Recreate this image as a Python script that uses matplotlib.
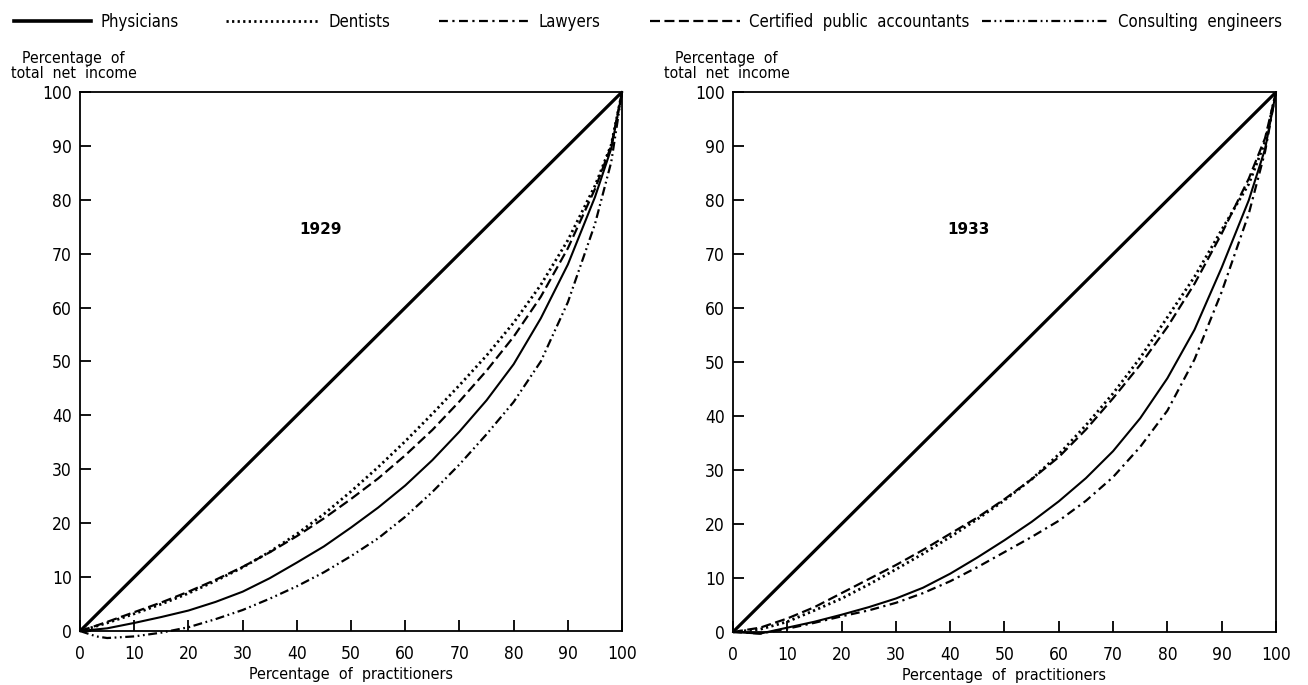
import matplotlib
matplotlib.use('Agg')
import matplotlib.pyplot as plt
from matplotlib.lines import Line2D

plt.rcParams['font.family'] = ['DejaVu Sans']
plt.rcParams['font.stretch'] = 'condensed'

#%% data
pct_1929 = [0, 3, 5, 10, 15, 20, 25, 30, 35, 40, 45, 50, 55, 60, 65, 70, 75, 80, 85, 90, 95, 98, 100]
dentists_1929 = [0, 0.9, 1.5, 3.2, 5.0, 7.0, 9.3, 11.8, 14.7, 18.0, 21.7, 25.9, 30.4, 35.2, 40.3, 45.6, 51.1, 57.2, 64.2, 72.5, 82.6, 90.2, 100]
cpa_1929 = [0, 1.0, 1.7, 3.5, 5.3, 7.3, 9.5, 11.9, 14.6, 17.6, 20.9, 24.5, 28.3, 32.6, 37.3, 42.6, 48.3, 54.6, 62.0, 71.0, 82.0, 90.0, 100]
physicians_1929 = [0, 0.3, 0.5, 1.5, 2.6, 3.8, 5.4, 7.3, 9.8, 12.7, 15.7, 19.2, 22.9, 27.0, 31.7, 37.0, 42.8, 49.5, 58.0, 68.0, 80.5, 89.5, 100]
engineers_1929 = [0, -1.0, -1.3, -1.0, -0.3, 0.7, 2.2, 3.9, 6.0, 8.3, 10.9, 13.9, 17.2, 21.2, 25.8, 30.9, 36.5, 42.5, 50.0, 61.0, 75.5, 87.0, 100]

pct_1933 = [0, 5, 10, 15, 20, 25, 30, 35, 40, 45, 50, 55, 60, 65, 70, 75, 80, 85, 90, 95, 98, 100]
dentists_1933 = [0, 0.5, 1.9, 4.0, 6.2, 8.8, 11.6, 14.5, 17.6, 20.9, 24.4, 28.3, 32.9, 38.3, 44.2, 50.8, 58.3, 65.8, 74.5, 83.0, 90.8, 100]
cpa_1933 = [0, 0.8, 2.5, 4.6, 7.2, 9.8, 12.4, 15.2, 18.2, 21.2, 24.6, 28.3, 32.4, 37.5, 43.3, 49.5, 56.5, 64.5, 73.8, 84.0, 91.5, 100]
physicians_1933 = [0, -0.3, 0.8, 1.9, 3.2, 4.6, 6.2, 8.2, 10.8, 13.8, 17.0, 20.4, 24.2, 28.5, 33.5, 39.6, 47.0, 56.0, 67.5, 80.0, 89.5, 100]
lawyers_1933 = [0, -0.3, 0.6, 1.7, 2.9, 4.0, 5.4, 7.2, 9.4, 12.0, 14.8, 17.6, 20.6, 24.3, 28.7, 34.3, 41.0, 50.5, 63.0, 77.5, 89.0, 100]

equality = [0, 100]
ticks = list(range(0, 101, 10))

#%% line styles
sty = {
    'Physicians': dict(color='black', lw=1.5, ls='-'),
    'Dentists': dict(color='black', lw=2.0, ls=(0, (0.8, 1.2))),
    'Lawyers': dict(color='black', lw=1.6, ls=(0, (4, 2, 1, 2))),
    'Certified public accountants': dict(color='black', lw=1.6, ls=(0, (4.5, 2))),
    'Consulting engineers': dict(color='black', lw=1.6, ls=(0, (4, 1.6, 0.8, 1.6, 0.8, 1.6))),
}

fig = plt.figure(figsize=(13.08, 6.85), dpi=100)
ax1 = fig.add_axes([0.0612, 0.0788, 0.4144, 0.787])
ax2 = fig.add_axes([0.5604, 0.0774, 0.4151, 0.788])

def setup(ax, year, yr_x):
    ax.plot(equality, equality, color='black', lw=2.3, solid_capstyle='butt')
    ax.set_xlim(0, 100)
    ax.set_ylim(0, 100)
    ax.set_xticks(ticks)
    ax.set_yticks(ticks)
    ax.tick_params(axis='both', direction='in', length=8, width=1.3, labelsize=12.5)
    ax.tick_params(axis='x', pad=10)
    ax.tick_params(axis='y', pad=6)
    for s in ax.spines.values():
        s.set_linewidth(1.3)
    ax.set_xlabel('Percentage  of  practitioners', fontsize=11.5, labelpad=3)
    ax.text(-0.012, 1.02, 'Percentage  of\ntotal  net  income', transform=ax.transAxes,
            ha='center', va='bottom', fontsize=11.3, linespacing=1.05)
    ax.text(yr_x, 74.5, year, ha='center', va='center', fontsize=11,
            fontweight='bold', fontstretch='normal')

setup(ax1, '1929', 44.3)
setup(ax2, '1933', 43.3)

ax1.plot(pct_1929, dentists_1929, clip_on=False, **sty['Dentists'])
ax1.plot(pct_1929, cpa_1929, clip_on=False, **sty['Certified public accountants'])
ax1.plot(pct_1929, physicians_1929, clip_on=False, **sty['Physicians'])
ax1.plot(pct_1929, engineers_1929, clip_on=False, **sty['Consulting engineers'])

ax2.plot(pct_1933, dentists_1933, clip_on=False, **sty['Dentists'])
ax2.plot(pct_1933, cpa_1933, clip_on=False, **sty['Certified public accountants'])
ax2.plot(pct_1933, physicians_1933, clip_on=False, **sty['Physicians'])
ax2.plot(pct_1933, lawyers_1933, clip_on=False, **sty['Lawyers'])

#%% legend across the top, one box per entry
leg_names = ['Physicians', 'Dentists', 'Lawyers', 'Certified public accountants', 'Consulting engineers']
leg_x = [0.011, 0.173, 0.336, 0.497, 0.751]
leg_len = [4.6, 5.6, 5.4, 5.4, 7.6]
for name, x0, hl in zip(leg_names, leg_x, leg_len):
    st = dict(sty[name])
    if name == 'Physicians':
        st['lw'] = 2.6
    h = Line2D([], [], **st)
    fig.legend([h], ['  '.join(name.split(' '))], loc='center left',
               bbox_to_anchor=(x0, 0.968), frameon=False, fontsize=12,
               handlelength=hl, handletextpad=0.55, borderpad=0, borderaxespad=0)

fig.savefig('out.png', dpi=100)
